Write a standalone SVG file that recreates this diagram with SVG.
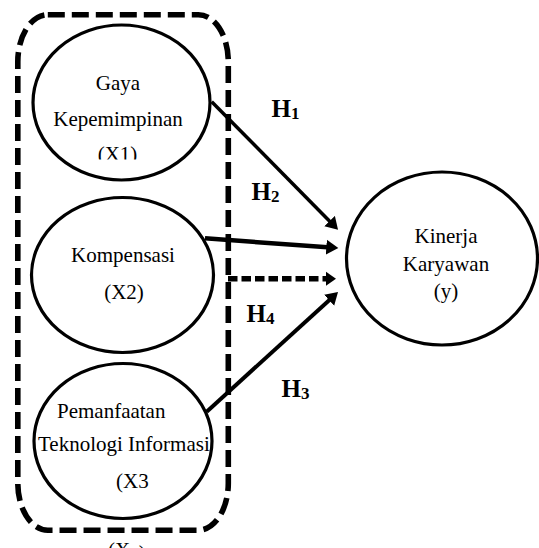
<svg xmlns="http://www.w3.org/2000/svg" width="539" height="548" viewBox="0 0 539 548">
<style>
  .node { fill: #fff; stroke: #000; stroke-width: 3.2; }
  .t { font-family: "Liberation Serif", "Times New Roman", serif; font-size: 21px; fill: #000; }
  .c { text-anchor: middle; }
  .h { font-family: "Liberation Serif", "Times New Roman", serif; font-size: 25px; font-weight: bold; fill: #000; }
  .sub { font-size: 17px; }
  .conn { stroke: #000; fill: none; }
  .group { fill: none; stroke: #000; stroke-width: 5.6; stroke-dasharray: 17 7; }
</style>
<defs>
  <marker id="ah" markerUnits="userSpaceOnUse" markerWidth="14" markerHeight="16" viewBox="0 -7 12 14" refX="1" refY="0" orient="auto">
    <path d="M0,-6.5 L10.5,0 L0,6.5 z" fill="#000"/>
  </marker>
  <marker id="ahd" markerUnits="userSpaceOnUse" markerWidth="14" markerHeight="16" viewBox="0 -8 12 16" refX="1" refY="0" orient="auto">
    <path d="M0,-7 L10,0 L0,7 z" fill="#000"/>
  </marker>
  <clipPath id="clipX1"><rect x="0" y="0" width="240" height="159.4"/></clipPath>
</defs>
<rect width="539" height="548" fill="#fff"/>

<g id="group-x">
  <rect class="group" x="17.8" y="14.7" width="210.5" height="515.5" rx="30" ry="47"/>
  <text class="t" x="108" y="557">(X<tspan class="sub" dy="3">4</tspan>)</text>
</g>

<g id="node-x1">
  <ellipse class="node" cx="121.5" cy="102.5" rx="88.5" ry="77.5"/>
  <text class="t c" x="118" y="90">Gaya</text>
  <text class="t c" x="118" y="125.5">Kepemimpinan</text>
  <text class="t c" x="117.5" y="160.7" clip-path="url(#clipX1)">(X1)</text>
</g>

<g id="node-x2">
  <ellipse class="node" cx="122.5" cy="275" rx="91" ry="77.5"/>
  <text class="t c" x="123" y="261.5">Kompensasi</text>
  <text class="t c" x="124" y="299">(X2)</text>
</g>

<g id="node-x3">
  <ellipse class="node" cx="123" cy="441" rx="89" ry="77.5"/>
  <text class="t" x="57" y="418">Pemanfaatan</text>
  <text class="t" x="38" y="451.3">Teknologi Informasi</text>
  <text class="t" x="116" y="488">(X3</text>
</g>

<g id="node-y">
  <ellipse class="node" cx="442" cy="258.5" rx="95.5" ry="86.5"/>
  <text class="t c" x="446" y="243">Kinerja</text>
  <text class="t c" x="446" y="270.5">Karyawan</text>
  <text class="t c" x="446" y="297.5">(y)</text>
</g>

<g id="connectors">
  <line class="conn" x1="211.7" y1="101.7" x2="330.4" y2="221.9" stroke-width="3.5" marker-end="url(#ah)"/>
  <line class="conn" x1="205" y1="238.3" x2="327.5" y2="247.3" stroke-width="4.5" marker-end="url(#ah)"/>
  <line class="conn" x1="206.7" y1="411.7" x2="330" y2="299.4" stroke-width="4" marker-end="url(#ah)"/>
  <line class="conn" x1="228" y1="278.7" x2="327" y2="278.7" stroke-width="5.6" stroke-dasharray="9.5 4" marker-end="url(#ahd)"/>
  <text class="h" x="271.5" y="117">H<tspan class="sub" dy="2">1</tspan></text>
  <text class="h" x="251.5" y="200">H<tspan class="sub" dy="2">2</tspan></text>
  <text class="h" x="281.5" y="396.7">H<tspan class="sub" dy="2">3</tspan></text>
  <text class="h" x="246.5" y="321.7">H<tspan class="sub" dy="2">4</tspan></text>
</g>
</svg>
